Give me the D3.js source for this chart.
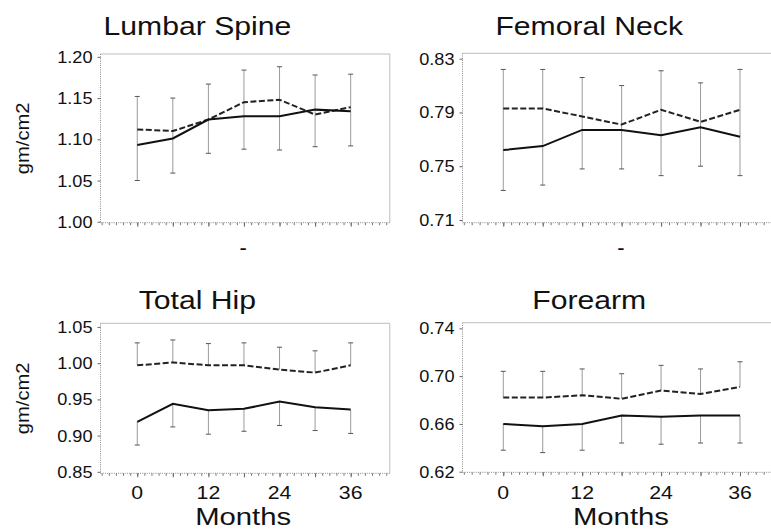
<!DOCTYPE html>
<html>
<head>
<meta charset="utf-8">
<script src="https://cdn.jsdelivr.net/npm/d3@7"></script>
<style>
  html, body { margin: 0; padding: 0; background: #fff; }
  svg { display: block; font-family: "Liberation Sans", Arial, sans-serif; }
</style>
</head>
<body>
<svg id="chart" width="771" height="531"></svg>
<script>
// ---------------- data ----------------
const months = [0, 6, 12, 18, 24, 30, 36];
const monthTicks = [0, 12, 24, 36];

const lumbarTicks = [1.00, 1.05, 1.10, 1.15, 1.20];
const lumbarSolid  = [1.093, 1.101, 1.124, 1.128, 1.128, 1.136, 1.134];
const lumbarDashed = [1.112, 1.110, 1.124, 1.145, 1.148, 1.130, 1.139];
const lumbarUpper  = [1.152, 1.150, 1.167, 1.184, 1.188, 1.178, 1.179];
const lumbarLower  = [1.050, 1.059, 1.083, 1.088, 1.087, 1.091, 1.092];

const femoralTicks = [0.71, 0.75, 0.79, 0.83];
const femoralSolid  = [0.762, 0.765, 0.777, 0.777, 0.773, 0.779, 0.772];
const femoralDashed = [0.793, 0.793, 0.787, 0.781, 0.792, 0.783, 0.792];
const femoralUpper  = [0.822, 0.822, 0.816, 0.810, 0.821, 0.812, 0.822];
const femoralLower  = [0.732, 0.736, 0.748, 0.748, 0.743, 0.750, 0.743];

const hipTicks = [0.85, 0.90, 0.95, 1.00, 1.05];
const hipSolid  = [0.919, 0.944, 0.935, 0.937, 0.947, 0.939, 0.936];
const hipDashed = [0.997, 1.001, 0.997, 0.997, 0.991, 0.987, 0.997];
const hipUpper  = [1.028, 1.032, 1.027, 1.028, 1.022, 1.017, 1.028];
const hipLower  = [0.887, 0.912, 0.902, 0.906, 0.914, 0.907, 0.903];

const forearmTicks = [0.62, 0.66, 0.70, 0.74];
const forearmSolid  = [0.660, 0.658, 0.660, 0.667, 0.666, 0.667, 0.667];
const forearmDashed = [0.682, 0.682, 0.684, 0.681, 0.688, 0.685, 0.691];
const forearmUpper  = [0.704, 0.704, 0.706, 0.702, 0.709, 0.706, 0.712];
const forearmLower  = [0.638, 0.636, 0.638, 0.644, 0.643, 0.644, 0.644];

const titles = ["Lumbar Spine", "Femoral Neck", "Total Hip", "Forearm"];
const yLabel = "gm/cm2";
const xLabel = "Months";
const topXLabel = "-";

// ---------------- layout ----------------
const svg = d3.select("#chart");
const xDomain = [-6.2, 42.6];

const panels = [
  { title: titles[0], ticks: lumbarTicks, solid: lumbarSolid, dashed: lumbarDashed, upper: lumbarUpper, lower: lumbarLower,
    joinBars: true, outerLeft: 5, xr: [100.5, 389.8], yd: [0.9988, 1.2035], yr: [222.7, 54], left: true, bottom: false, titleY: 35, xLabY: 255 },
  { title: titles[1], ticks: femoralTicks, solid: femoralSolid, dashed: femoralDashed, upper: femoralUpper, lower: femoralLower,
    joinBars: true, outerLeft: 395, xr: [462.5, 783.4], yd: [0.708, 0.834], yr: [222.7, 53.3], left: false, bottom: false, titleY: 35, xLabY: 255 },
  { title: titles[2], ticks: hipTicks, solid: hipSolid, dashed: hipDashed, upper: hipUpper, lower: hipLower,
    joinBars: false, outerLeft: 5, xr: [100.5, 389.8], yd: [0.848, 1.055], yr: [473.3, 323.3], left: true, bottom: true, titleY: 308.5, xLabY: 525 },
  { title: titles[3], ticks: forearmTicks, solid: forearmSolid, dashed: forearmDashed, upper: forearmUpper, lower: forearmLower,
    joinBars: false, outerLeft: 395, xr: [462.5, 783.4], yd: [0.6195, 0.7447], yr: [472.3, 322.7], left: false, bottom: true, titleY: 308.5, xLabY: 525 }
];

function stretchedText(parent, x, y, str, size, sx, anchor) {
  const g = parent.append("g").attr("transform", `translate(${x},${y}) scale(${sx},1)`);
  g.append("text").attr("x", 0).attr("y", 0)
    .attr("font-size", size).attr("text-anchor", anchor || "middle").attr("fill", "#111").text(str);
  return g;
}

panels.forEach(p => {
  const x = d3.scaleLinear().domain(xDomain).range(p.xr);
  const y = d3.scaleLinear().domain(p.yd).range(p.yr);
  const g = svg.append("g");
  const x0 = p.xr[0], x1 = p.xr[1], y0 = p.yr[0], y1 = p.yr[1];

  // frame top & right
  g.append("line").attr("x1", x0).attr("x2", x1).attr("y1", y1).attr("y2", y1)
    .attr("stroke", "#bdbdbd").attr("stroke-width", 1);
  g.append("line").attr("x1", x1).attr("x2", x1).attr("y1", y1).attr("y2", y0)
    .attr("stroke", "#bdbdbd").attr("stroke-width", 1);

  // left axis (dotted) with ticks
  g.append("line").attr("x1", x0).attr("x2", x0).attr("y1", y1).attr("y2", y0)
    .attr("stroke", "#888").attr("stroke-width", 1).attr("stroke-dasharray", "1,1.2");
  const yAxis = d3.axisLeft(y).tickValues(p.ticks).tickFormat("").tickSize(3);
  const ya = g.append("g").attr("transform", `translate(${x0},0)`).call(yAxis);
  ya.select(".domain").remove();
  ya.selectAll(".tick line").attr("stroke", "#666");
  p.ticks.forEach(t => {
    stretchedText(g, x0 - 8, y(t) + 6, d3.format(".2f")(t), 16.5, 1.1, "end");
  });

  // bottom axis (dotted) with minor ticks
  g.append("line").attr("x1", x0).attr("x2", x1).attr("y1", y0).attr("y2", y0)
    .attr("stroke", "#888").attr("stroke-width", 1).attr("stroke-dasharray", "1,1.2");
  const minor = d3.range(-6, 42.01, 1.2);
  const xAxis = d3.axisBottom(x).tickValues(minor).tickSize(2.5).tickFormat("");
  const xa = g.append("g").attr("transform", `translate(0,${y0})`).call(xAxis);
  xa.select(".domain").remove();
  xa.selectAll(".tick line").attr("stroke", "#777");
  const major = d3.axisBottom(x).tickValues(months).tickSize(4).tickFormat("");
  const xm = g.append("g").attr("transform", `translate(0,${y0})`).call(major);
  xm.select(".domain").remove();
  xm.selectAll(".tick line").attr("stroke", "#666");

  if (p.bottom) {
    monthTicks.forEach(m => {
      stretchedText(g, x(m), 498.5, String(m), 18.5, 1.15, "middle");
    });
  }

  // error bars
  const eb = g.append("g");
  months.forEach((m, i) => {
    const cx = x(m);
    if (p.joinBars) {
      eb.append("line").attr("x1", cx).attr("x2", cx).attr("y1", y(p.lower[i])).attr("y2", y(p.upper[i]))
        .attr("stroke", "#9a9a9a").attr("stroke-width", 1);
    } else {
      eb.append("line").attr("x1", cx).attr("x2", cx).attr("y1", y(p.dashed[i])).attr("y2", y(p.upper[i]))
        .attr("stroke", "#9a9a9a").attr("stroke-width", 1);
      eb.append("line").attr("x1", cx).attr("x2", cx).attr("y1", y(p.solid[i])).attr("y2", y(p.lower[i]))
        .attr("stroke", "#9a9a9a").attr("stroke-width", 1);
    }
    eb.append("line").attr("x1", cx - 2.5).attr("x2", cx + 2.5).attr("y1", y(p.upper[i])).attr("y2", y(p.upper[i]))
      .attr("stroke", "#555").attr("stroke-width", 1);
    eb.append("line").attr("x1", cx - 2.5).attr("x2", cx + 2.5).attr("y1", y(p.lower[i])).attr("y2", y(p.lower[i]))
      .attr("stroke", "#555").attr("stroke-width", 1);
  });

  // lines
  const line = d3.line().x((d, i) => x(months[i])).y(d => y(d));
  g.append("path").datum(p.dashed).attr("d", line).attr("fill", "none")
    .attr("stroke", "#222").attr("stroke-width", 2).attr("stroke-dasharray", "6,2.5");
  g.append("path").datum(p.solid).attr("d", line).attr("fill", "none")
    .attr("stroke", "#111").attr("stroke-width", 2);

  // titles (centred on the whole panel, including the axis labels)
  const tcx = (p.outerLeft + x1) / 2;
  stretchedText(g, tcx, p.titleY, p.title, 26, 1.16, "middle");

  // x label
  const xlx = (x0 + x1) / 2 - 2;
  if (p.bottom) {
    stretchedText(g, xlx, p.xLabY, xLabel, 24, 1.22, "middle");
  } else {
    stretchedText(g, xlx, p.xLabY, topXLabel, 22, 1.0, "middle");
  }

  // y label
  if (p.left) {
    const cy = (y0 + y1) / 2;
    g.append("text").attr("transform", `translate(29,${cy}) rotate(-90) scale(1.12,1)`)
      .attr("text-anchor", "middle").attr("font-size", 18).attr("fill", "#111").text(yLabel);
  }
});
</script>
</body>
</html>
